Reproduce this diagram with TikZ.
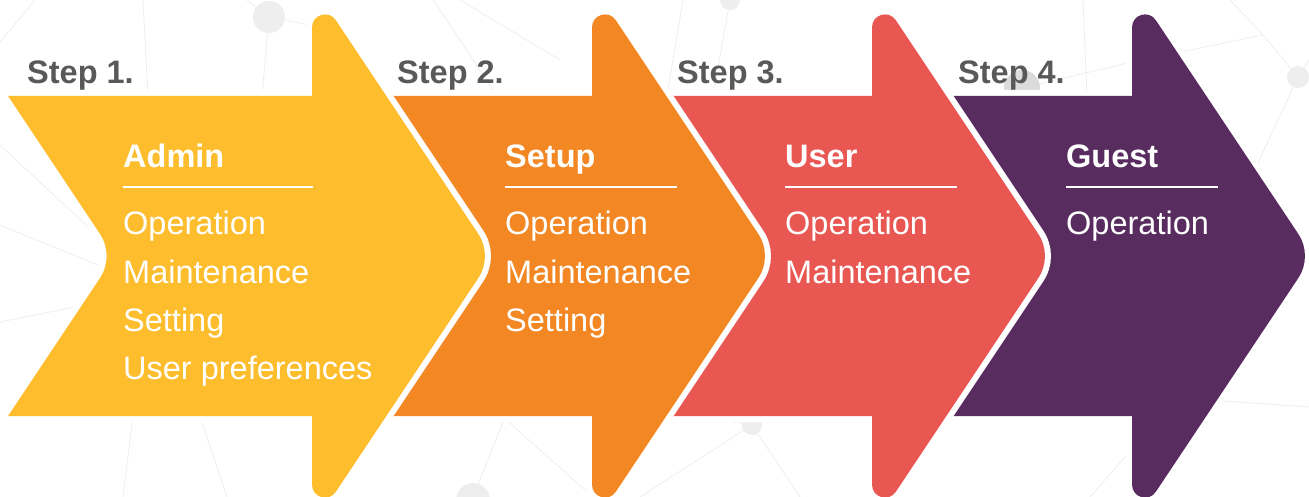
\documentclass[tikz,border=0pt]{standalone}
\usepackage{fontspec}
\setmainfont{Liberation Sans}
\usetikzlibrary{positioning}
\definecolor{admincol}{HTML}{FDBD2C}
\definecolor{setupcol}{HTML}{F28723}
\definecolor{usercol}{HTML}{E95753}
\definecolor{guestcol}{HTML}{582C5F}
\definecolor{stepgray}{HTML}{58595B}
\definecolor{netgray}{HTML}{EBEBEB}
\definecolor{dotgray}{HTML}{EEEEEE}
\tikzset{StepStyle/.style = {
			anchor     = base west,
			inner sep  = 0pt,
			text       = stepgray,
			font       = \fontsize{32.5}{38}\selectfont\bfseries}
			}
\tikzset{HeadStyle/.style = {
			anchor     = base west,
			inner sep  = 0pt,
			text       = white,
			font       = \fontsize{32.5}{38}\selectfont\bfseries}
			}
\tikzset{ItemStyle/.style = {
			anchor     = base west,
			inner sep  = 0pt,
			text       = white,
			font       = \fontsize{32.5}{38}\selectfont}
			}
\tikzset{RuleStyle/.style = {white, line width = 2.5pt}}
\tikzset{NetStyle/.style = {netgray, line width = 0.6pt}}

\begin{document}
\begin{tikzpicture}[x=1pt,y=-1pt]
							\useasboundingbox (0,0) rectangle (1309,497);
							\clip (0,0) rectangle (1309,497);
							\fill[white] (0,0) rectangle (1309,497);

							% background net
							\draw[NetStyle] (0,42) -- (35,0);
							\draw[NetStyle] (143,0) -- (148,96);
							\draw[NetStyle] (247,0) -- (269,17) -- (262,96);
							\draw[NetStyle] (269,17) -- (345,32);
							\draw[NetStyle] (0,145) -- (100,238);
							\draw[NetStyle] (0,225) -- (105,268);
							\draw[NetStyle] (0,322) -- (80,306);
							\draw[NetStyle] (123,497) -- (133,417);
							\draw[NetStyle] (200,417) -- (227,497);
							\draw[NetStyle] (433,0) -- (497,96);
							\draw[NetStyle] (460,0) -- (560,60);
							\draw[NetStyle] (683,0) -- (667,96);
							\draw[NetStyle] (730,0) -- (713,96);
							\draw[NetStyle] (503,417) -- (593,497);
							\draw[NetStyle] (473,497) -- (505,417);
							\draw[NetStyle] (700,417) -- (752,425) -- (800,497);
							\draw[NetStyle] (752,425) -- (640,497);
							\draw[NetStyle] (1083,0) -- (1087,96);
							\draw[NetStyle] (1022,88) -- (1132,62);
							\draw[NetStyle] (1132,62) -- (1263,35) -- (1298,77);
							\draw[NetStyle] (1230,0) -- (1263,35);
							\draw[NetStyle] (1298,77) -- (1309,60);
							\draw[NetStyle] (1298,77) -- (1250,180);
							\draw[NetStyle] (1210,400) -- (1309,407);
							\draw[NetStyle] (1090,497) -- (1140,440);
							\fill[dotgray] (269,17) circle (16);
							\fill[dotgray] (473,500) circle (17);
							\fill[dotgray] (752,425) circle (10);
							\fill[dotgray!92!black] (1022,88) circle (18);
							\fill[dotgray] (1298,77) circle (11);
							\fill[dotgray] (730,0) circle (10);

							% arrows, last one first
							\foreach \N/\col in {1132/guestcol, 872/usercol, 592/setupcol, 312/admincol}{
								\fill[\col, shift={(\N,0)}, preaction={draw=white, line width=12pt, line join=round}]
									(-304,96) -- (0,96) -- (0,27.4)
									.. controls (0,14.5) and (16.7,9.5) .. (23.8,20.2)
									-- (166.2,233.8)
									.. controls (175.2,247.3) and (175.2,264.7) .. (166.2,278.2)
									-- (23.8,491.8)
									.. controls (16.7,502.5) and (0,497.5) .. (0,484.6)
									-- (0,416) -- (-304,416) -- (-212.1,278.2)
									.. controls (-203.1,264.7) and (-203.1,247.3) .. (-212.1,233.8)
									-- cycle;
							}

							\draw (27,84)   node[StepStyle] (step1) {Step 1.};
							\draw (397,84)  node[StepStyle] (step2) {Step 2.};
							\draw (677,84)  node[StepStyle] (step3) {Step 3.};
							\draw (958,84)  node[StepStyle] (step4) {Step 4.};

							\draw (123,168)  node[HeadStyle] (admin) {Admin};
							\draw (505,168)  node[HeadStyle] (setup) {Setup};
							\draw (785,168)  node[HeadStyle] (user)  {User};
							\draw (1066,168) node[HeadStyle] (guest) {Guest};

							\draw[RuleStyle] (123,187)  -- (313,187);
							\draw[RuleStyle] (505,187)  -- (677,187);
							\draw[RuleStyle] (785,187)  -- (957,187);
							\draw[RuleStyle] (1066,187) -- (1218,187);

							\draw (123,235) node[ItemStyle] (admin1) {Operation};
							\draw (123,283) node[ItemStyle] (admin2) {Maintenance};
							\draw (123,331) node[ItemStyle] (admin3) {Setting};
							\draw (123,379) node[ItemStyle] (admin4) {User preferences};

							\draw (505,235) node[ItemStyle] (setup1) {Operation};
							\draw (505,283) node[ItemStyle] (setup2) {Maintenance};
							\draw (505,331) node[ItemStyle] (setup3) {Setting};

							\draw (785,235) node[ItemStyle] (user1) {Operation};
							\draw (785,283) node[ItemStyle] (user2) {Maintenance};

							\draw (1066,235) node[ItemStyle] (guest1) {Operation};

\end{tikzpicture}
\end{document}
